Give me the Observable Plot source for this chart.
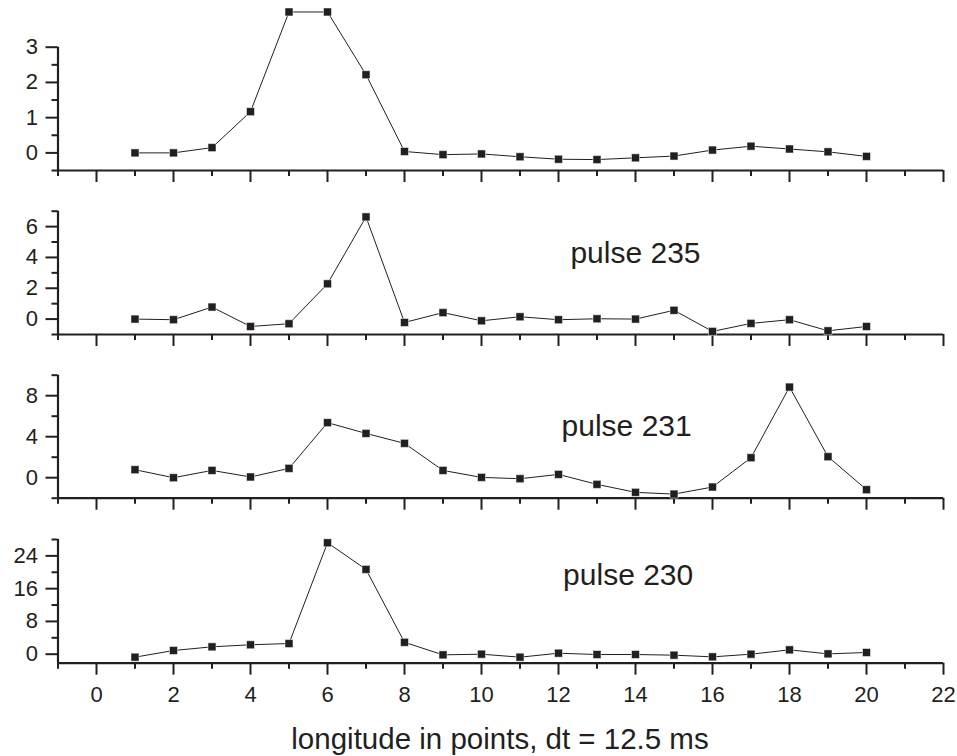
<!DOCTYPE html>
<html>
<head>
<meta charset="utf-8">
<script src="https://cdn.jsdelivr.net/npm/d3@7"></script>
<script src="https://cdn.jsdelivr.net/npm/@observablehq/plot@0.6"></script>
<style>
  html, body { margin: 0; padding: 0; background: #fff; }
  #wrap { position: relative; width: 957px; height: 756px; overflow: hidden; font-family: "Liberation Sans", Arial, sans-serif; }
  #wrap svg { position: absolute; left: 0; }
  #caption { position: absolute; left: 0; width: 1000px; text-align: center; top: 722px; font-size: 29.5px; line-height: 33px; color: #231f20; }
</style>
</head>
<body>
<div id="wrap"><div id="caption">longitude in points, dt = 12.5 ms</div></div>
<script>
// ---- data ----
const points = [1, 2, 3, 4, 5, 6, 7, 8, 9, 10, 11, 12, 13, 14, 15, 16, 17, 18, 19, 20];
const pulseTop = [0, 0, 0.15, 1.17, 4.0, 4.0, 2.22, 0.04, -0.05, -0.03, -0.11, -0.18, -0.19, -0.14, -0.09, 0.08, 0.19, 0.11, 0.03, -0.10];
const pulse235 = [0.0, -0.04, 0.78, -0.48, -0.30, 2.29, 6.63, -0.22, 0.42, -0.11, 0.15, -0.04, 0.02, 0.0, 0.57, -0.80, -0.28, -0.04, -0.76, -0.48];
const pulse231 = [0.78, 0, 0.71, 0.07, 0.91, 5.37, 4.32, 3.35, 0.71, 0.03, -0.10, 0.32, -0.65, -1.43, -1.60, -0.91, 1.95, 8.84, 2.05, -1.17];
const pulse230 = [-0.73, 0.9, 1.8, 2.3, 2.6, 27.2, 20.7, 2.9, -0.16, 0, -0.73, 0.24, -0.08, -0.08, -0.24, -0.65, 0, 1.06, 0.08, 0.41];
const panelLabels = [null, "pulse 235", "pulse 231", "pulse 230"];
const xMajor = [0, 2, 4, 6, 8, 10, 12, 14, 16, 18, 20, 22];
const xMinor = [-1, 1, 3, 5, 7, 9, 11, 13, 15, 17, 19, 21];
const yMajor1 = [0, 1, 2, 3], yMinor1 = [-0.5, 0.5, 1.5, 2.5];
const yMajor2 = [0, 2, 4, 6], yMinor2 = [-1, 1, 3, 5, 7];
const yMajor3 = [0, 4, 8], yMinor3 = [-2, 2, 6, 10];
const yMajor4 = [0, 8, 16, 24], yMinor4 = [4, 12, 20, 28];

const ink = "#231f20";
const font = '"Liberation Sans", Arial, sans-serif';
const xDomain = [-1, 22];

const panels = [
  {values: pulseTop, domain: [-0.5, 3], major: yMajor1, minor: yMinor1, top: 0, height: 190, mt: 46.7, mb: 20, label: panelLabels[0]},
  {values: pulse235, domain: [-1, 7], major: yMajor2, minor: yMinor2, top: 190, height: 160, mt: 20.7, mb: 16, label: panelLabels[1], lx: 12.31, ly: 3.66},
  {values: pulse231, domain: [-2, 10], major: yMajor3, minor: yMinor3, top: 350, height: 165, mt: 24.7, mb: 17.3, label: panelLabels[2], lx: 12.08, ly: 4.03},
  {values: pulse230, domain: [-2.2, 28], major: yMajor4, minor: yMinor4, top: 515, height: 241, mt: 24, mb: 93.3, label: panelLabels[3], lx: 12.12, ly: 17.0, bottom: true}
];

const wrap = document.getElementById("wrap");
panels.forEach(p => {
  const rows = points.map((x, i) => ({x, y: p.values[i]}));
  const [y0, y1] = p.domain;
  const marks = [
    Plot.ruleX([-1], {y1: y0, y2: y1, stroke: ink, strokeWidth: 2.2}),
    Plot.ruleY([y0], {x1: -1, x2: 22, stroke: ink, strokeWidth: 2.2}),
    Plot.axisY(p.major, {anchor: "left", tickSize: 12, strokeWidth: 2, stroke: ink, tickFormat: () => "", label: null}),
    Plot.axisY(p.minor, {anchor: "left", tickSize: 6, strokeWidth: 2, stroke: ink, tickFormat: () => "", label: null}),
    Plot.axisX(xMajor, {anchor: "bottom", tickSize: 12, strokeWidth: 2, stroke: ink, tickFormat: () => "", label: null}),
    Plot.axisX(xMinor, {anchor: "bottom", tickSize: 6, strokeWidth: 2, stroke: ink, tickFormat: () => "", label: null}),
    // y tick labels
    Plot.text(p.major, {x: () => -1, y: d => d, text: d => String(d), textAnchor: "end", lineAnchor: "middle", dx: -20, fontSize: 22, fill: ink}),
    Plot.line(rows, {x: "x", y: "y", stroke: ink, strokeWidth: 1}),
    Plot.dot(rows, {x: "x", y: "y", symbol: "square", r: 4.5, fill: ink, stroke: "#fff", strokeWidth: 0.5})
  ];
  if (p.bottom) {
    marks.push(Plot.text(xMajor, {x: d => d, y: () => y0, text: d => String(d), textAnchor: "middle", lineAnchor: "top", dy: 23, fontSize: 22, fill: ink}));
  }
  if (p.label) {
    marks.push(Plot.text([p.label], {x: () => p.lx, y: () => p.ly, text: d => d, textAnchor: "start", lineAnchor: "bottom", fontSize: 30, fill: ink}));
  }
  const svg = Plot.plot({
    width: 957,
    height: p.height,
    marginLeft: 57.5,
    marginRight: 14,
    marginTop: p.mt,
    marginBottom: p.mb,
    x: {domain: xDomain},
    y: {domain: p.domain},
    style: {fontFamily: font, fontSize: "22px", background: "transparent", overflow: "visible"},
    marks
  });
  svg.style.top = p.top + "px";
  wrap.appendChild(svg);
});
</script>
</body>
</html>
